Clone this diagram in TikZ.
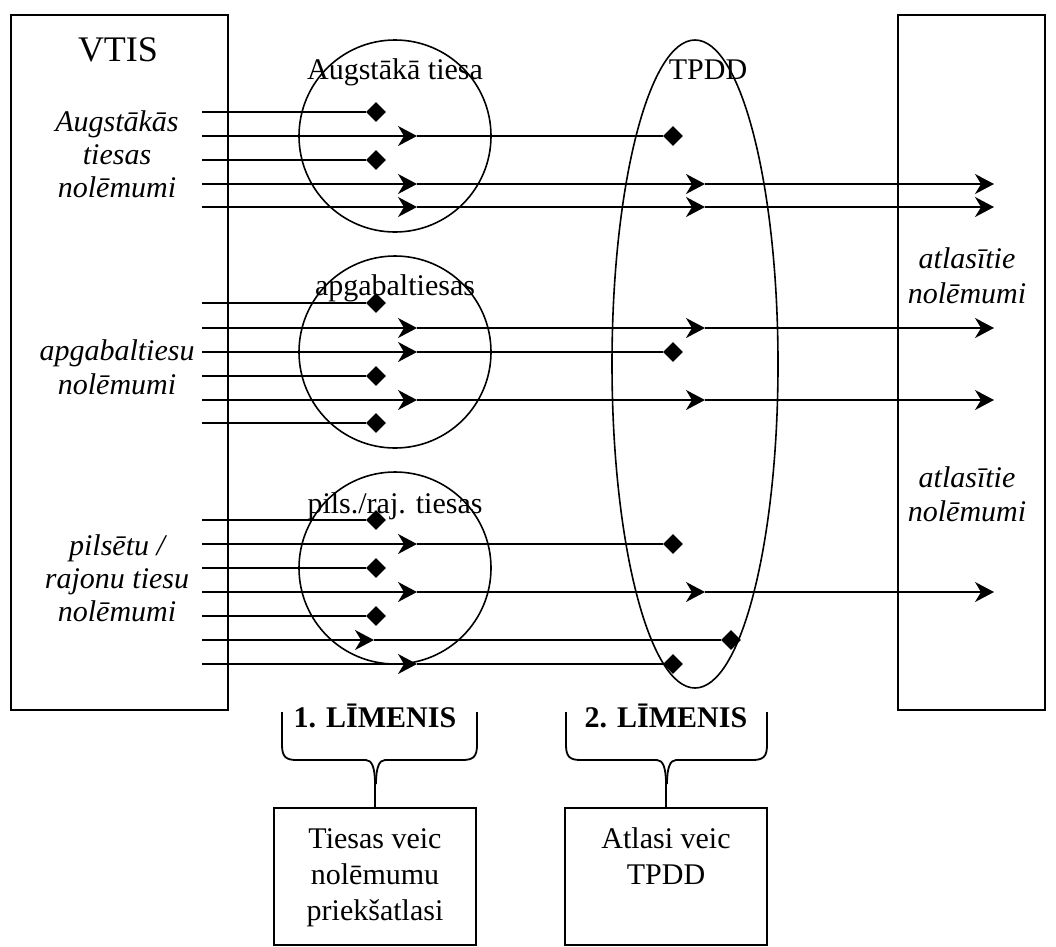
\documentclass[tikz,border=0pt]{standalone}
\usepackage{fontspec}
\setmainfont{Liberation Serif}
\usetikzlibrary{arrows.meta,shapes.geometric}
\begin{document}
\begin{tikzpicture}[x=1pt,y=-1pt,
  ln/.style={line width=1.8pt},
  ar/.style={ln,-{Stealth[length=19pt,width=20pt,inset=6pt]}},
  dm/.style={shape=diamond,fill=black,draw=none,inner sep=0pt,minimum width=20pt,minimum height=20pt},
  txt/.style={font=\fontsize{30}{36}\selectfont,inner sep=0pt,align=center,anchor=base},
  itx/.style={font=\fontsize{30}{34}\selectfont\itshape,inner sep=0pt,align=center,anchor=base},
  bold/.style={font=\fontsize{30}{34}\selectfont\bfseries,inner sep=0pt,anchor=base},
  box/.style={draw,line width=1.8pt,inner sep=0pt},
  brace/.style={line width=1.8pt}]
\useasboundingbox (0,0) rectangle (1056,946);

% side boxes
\node[box,minimum width=217pt,minimum height=695pt] (vtis) at (119.5,362.5) {};
\node[box,minimum width=147pt,minimum height=695pt] (out) at (971.5,362.5) {};

% circles and ellipse
\node[draw,circle,line width=1.6pt,minimum size=192pt,inner sep=0pt] (c1) at (395,136) {};
\node[draw,circle,line width=1.6pt,minimum size=192pt,inner sep=0pt] (c2) at (395,352) {};
\node[draw,circle,line width=1.6pt,minimum size=192pt,inner sep=0pt] (c3) at (395,568) {};
\node[draw,ellipse,line width=1.6pt,minimum width=166pt,minimum height=648pt,inner sep=0pt] (tpdd) at (695,364) {};

% labels
\node[font=\fontsize{36}{40}\selectfont,inner sep=0pt,anchor=base] (vt) at (118,61) {VTIS};
\node[itx] (l1a) at (117,131) {Augstākās};
\node[itx] (l1b) at (117,164) {tiesas};
\node[itx] (l1c) at (117,197) {nolēmumi};
\node[itx] (l2a) at (117,360) {apgabaltiesu};
\node[itx] (l2b) at (117,394) {nolēmumi};
\node[itx] (l3a) at (117,555) {pilsētu /};
\node[itx] (l3b) at (117,588) {rajonu tiesu};
\node[itx] (l3c) at (117,621) {nolēmumi};
\node[itx] (r1a) at (967,268) {atlasītie};
\node[itx] (r1b) at (967,303) {nolēmumi};
\node[itx] (r2a) at (967,487) {atlasītie};
\node[itx] (r2b) at (967,521) {nolēmumi};
\node[txt] (t1) at (395,79) {Augstākā tiesa};
\node[txt] (t2) at (395,295) {apgabaltiesas};
\node[txt] (t3) at (395,513) {pils./raj. tiesas};
\node[txt] (t4) at (708,79) {TPDD};

% rows ending in a diamond at the first circle
\foreach \y/\n in {112/a1,160/a3,303/b1,376/b4,423/b6,520/c1,568/c3,616/c5}{
  \coordinate (s\n) at (202,\y);
  \node[dm] (d\n) at (376,\y) {};
  \draw[ln] (s\n) -- (d\n);
}
% rows passing the first circle, stopped at TPDD
\foreach \y/\n in {136/a2,352/b3,544/c2,664/c7}{
  \coordinate (s\n) at (202,\y);
  \coordinate (m\n) at (417,\y);
  \node[dm] (d\n) at (673,\y) {};
  \draw[ar] (s\n) -- (m\n);
  \draw[ln] (m\n) -- (d\n);
}
% rows selected by both levels
\foreach \y/\n in {184/a4,207/a5,328/b2,400/b5,592/c4}{
  \coordinate (s\n) at (202,\y);
  \coordinate (m\n) at (417,\y);
  \coordinate (p\n) at (705,\y);
  \coordinate (e\n) at (994,\y);
  \draw[ar] (s\n) -- (m\n);
  \draw[ar] (m\n) -- (p\n);
  \draw[ar] (p\n) -- (e\n);
}
% special row
\coordinate (sc6) at (202,640);
\coordinate (mc6) at (374,640);
\node[dm] (dc6) at (731,640) {};
\draw[ar] (sc6) -- (mc6);
\draw[ln] (mc6) -- (dc6);

% bottom boxes
\node[box,minimum width=202pt,minimum height=137pt] (bx1) at (375,876.5) {};
\node[box,minimum width=202pt,minimum height=137pt] (bx2) at (666,876.5) {};
\node[txt] (bt1) at (375,920) {Tiesas veic\\nolēmumu\\priekšatlasi};
\node[txt] (bt2) at (666,884) {Atlasi veic\\TPDD};

% level labels
\node[bold] (lv1) at (375,727) {1. LĪMENIS};
\node[bold] (lv2) at (666,727) {2. LĪMENIS};

% braces
\coordinate (b1l) at (282,712);
\coordinate (b1r) at (477,712);
\draw[brace] (b1l) -- (282,745) .. controls (282,757) and (286,760) .. (297,760) -- (366,760)
  .. controls (372,760) and (375,768) .. (375,784) -- (bx1.north);
\draw[brace] (b1r) -- (477,745) .. controls (477,757) and (473,760) .. (462,760) -- (385,760)
  .. controls (379,760) and (376,768) .. (376,784);
\coordinate (b2l) at (566,712);
\coordinate (b2r) at (767,712);
\draw[brace] (b2l) -- (566,745) .. controls (566,757) and (570,760) .. (581,760) -- (657,760)
  .. controls (663,760) and (666,768) .. (666,784) -- (bx2.north);
\draw[brace] (b2r) -- (767,745) .. controls (767,757) and (763,760) .. (752,760) -- (676,760)
  .. controls (670,760) and (667,768) .. (667,784);
\end{tikzpicture}
\end{document}
